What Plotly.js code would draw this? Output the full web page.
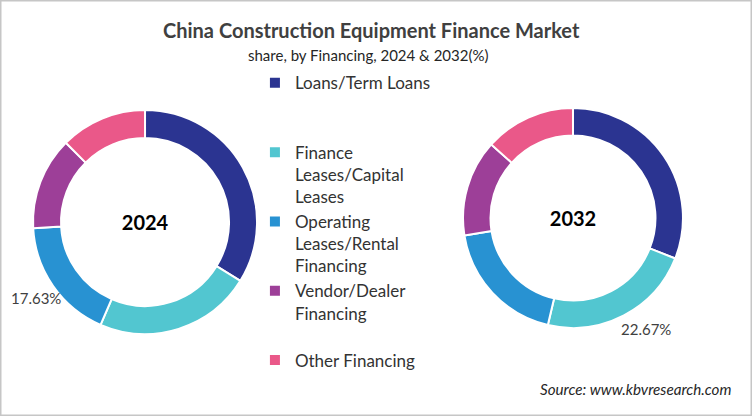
<!DOCTYPE html>
<html>
<head>
<meta charset="utf-8">
<script src="https://cdn.plot.ly/plotly-3.0.1.min.js"></script>
<style>
  html, body { margin: 0; padding: 0; background: #ffffff; }
  #chart { width: 752px; height: 416px; }
</style>
</head>
<body>
<div id="chart"></div>
<script>
// ---- data ----
var categories = [
  "Loans/Term Loans",
  "Finance Leases/Capital Leases",
  "Operating Leases/Rental Financing",
  "Vendor/Dealer Financing",
  "Other Financing"
];
// legend labels as wrapped in the picture (padding lines keep the spacing)
var legendLabels = [
  "Loans/Term Loans<br> <br> ",
  "Finance<br>Leases/Capital<br>Leases",
  "Operating<br>Leases/Rental<br>Financing",
  "Vendor/Dealer<br>Financing<br> ",
  "Other Financing"
];
var years = ["2024", "2032"];
var share2024 = [33.8, 22.7, 17.63, 13.37, 12.5];
var share2032 = [31.0, 22.67, 18.8, 14.2, 13.33];
// which slice carries the printed value in each year
var labelled2024 = [false, false, true, false, false];
var labelled2032 = [false, true, false, false, false];
var colors = ["#2b3491", "#52c6d0", "#2892d2", "#9d3f98", "#ea5889"];

var fontFam = "Lato, 'Open Sans', sans-serif";
var W = 752, H = 416;
var dom2024 = { x: [0.0439, 0.3418], y: [0.197, 0.7356] };
var dom2032 = { x: [0.6157, 0.9082], y: [0.2115, 0.7404] };

function donut(vals, year, dom) {
  return {
    type: "pie",
    labels: legendLabels,
    values: vals,
    sort: false,
    direction: "clockwise",
    rotation: 0,
    hole: 0.75,
    domain: dom,
    marker: { colors: colors, line: { color: "#ffffff", width: 2 } },
    textinfo: "none",
    title: { text: "<b>" + year + "</b>", position: "middle center",
             font: { family: fontFam, size: 20, color: "#000000" } },
    hoverinfo: "label+percent",
    showlegend: true
  };
}

// value labels placed just outside the middle of their slice (derived from the values)
function valueLabels(vals, flags, dom, nudge) {
  var total = vals.reduce(function (a, b) { return a + b; }, 0);
  var cx = (dom.x[0] + dom.x[1]) / 2 * W;
  var cy = (dom.y[0] + dom.y[1]) / 2 * H;
  var r = Math.min((dom.x[1] - dom.x[0]) * W, (dom.y[1] - dom.y[0]) * H) / 2;
  var out = [], cum = 0;
  vals.forEach(function (v, i) {
    var mid = (cum + v / 2) / total * 2 * Math.PI;
    cum += v;
    if (!flags[i]) return;
    var rr = r * 1.19;
    out.push({
      text: v.toFixed(2) + "%", xref: "paper", yref: "paper",
      x: (cx + rr * Math.sin(mid)) / W, y: (cy + rr * Math.cos(mid)) / H,
      xanchor: "center", yanchor: "middle", showarrow: false,
      xshift: nudge.dx, yshift: nudge.dy,
      font: { family: fontFam, size: 15, color: "#404040" }
    });
  });
  return out;
}

var data = [
  donut(share2024, years[0], dom2024),
  donut(share2032, years[1], dom2032)
];

var annotations = [
  { text: "<b>China Construction Equipment Finance Market</b>", xref: "paper", yref: "paper",
    x: 0.494, y: 0.928, xanchor: "center", yanchor: "middle", showarrow: false,
    font: { family: fontFam, size: 20, color: "#404040" } },
  { text: "share, by Financing, 2024 &amp; 2032(%)", xref: "paper", yref: "paper",
    x: 0.49, y: 0.868, xanchor: "center", yanchor: "middle", showarrow: false,
    font: { family: fontFam, size: 15, color: "#262626" } },
  { text: "<i>Source: www.kbvresearch.com</i>", xref: "paper", yref: "paper",
    x: 0.975, y: 0.065, xanchor: "right", yanchor: "middle", showarrow: false,
    font: { family: fontFam, size: 15.2, color: "#262626" } }
].concat(valueLabels(share2024, labelled2024, dom2024, { dx: 0, dy: 0 }))
 .concat(valueLabels(share2032, labelled2032, dom2032, { dx: 12, dy: 5 }));

var layout = {
  width: W,
  height: H,
  margin: { l: 0, r: 0, t: 0, b: 0 },
  paper_bgcolor: "#ffffff",
  font: { family: fontFam, color: "#404040" },
  showlegend: true,
  legend: {
    x: 0.339, y: 0.843, xanchor: "left", yanchor: "top",
    valign: "top",
    font: { family: fontFam, size: 17, color: "#333333" },
    itemwidth: 30,
    bgcolor: "rgba(0,0,0,0)"
  },
  annotations: annotations,
  shapes: [
    { type: "rect", xref: "paper", yref: "paper", x0: 0, x1: 1, y0: 0, y1: 1,
      line: { color: "#c6c6c6", width: 3 }, fillcolor: "rgba(0,0,0,0)" }
  ]
};

Plotly.newPlot("chart", data, layout, { displayModeBar: false, staticPlot: true });
</script>
</body>
</html>
